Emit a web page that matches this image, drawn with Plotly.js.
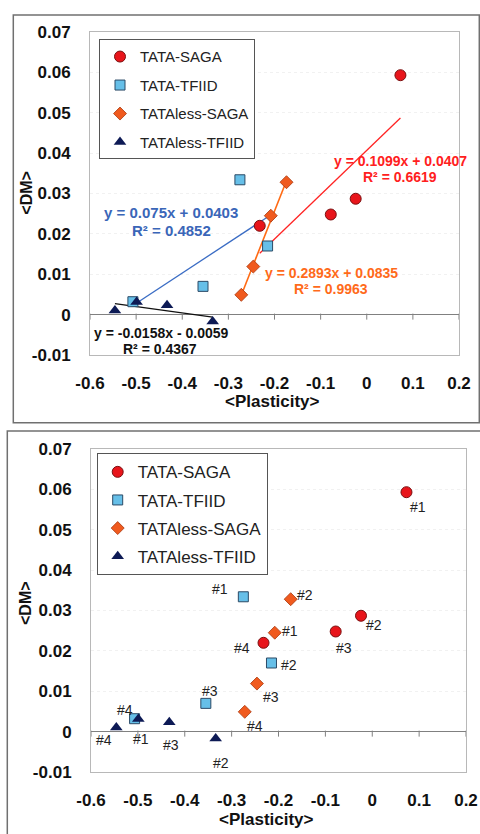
<!DOCTYPE html>
<html>
<head>
<meta charset="utf-8">
<script src="https://cdn.plot.ly/plotly-3.0.1.min.js"></script>
<style>
html,body{margin:0;padding:0;background:#fff;}
#chart{width:480px;height:834px;}
</style>
</head>
<body>
<div id="chart"></div>
<script>
// ---------- data ----------
const seriesNames = ['TATA-SAGA', 'TATA-TFIID', 'TATAless-SAGA', 'TATAless-TFIID'];
const pointLabels = ['#1', '#2', '#3', '#4'];

const tataSagaX = [0.073, -0.024, -0.078, -0.232];
const tataSagaY = [0.0593, 0.0287, 0.0248, 0.022];
const tataTfiidX = [-0.275, -0.215, -0.355, -0.507];
const tataTfiidY = [0.0334, 0.017, 0.007, 0.0032];
const lessSagaX = [-0.208, -0.174, -0.246, -0.272];
const lessSagaY = [0.0245, 0.0328, 0.0119, 0.0049];
const lessTfiidX = [-0.499, -0.334, -0.433, -0.546];
const lessTfiidY = [0.0031, -0.0017, 0.0023, 0.001];

const trendSlope = [0.1099, 0.075, 0.2893, -0.0158];
const trendIntercept = [0.0407, 0.0403, 0.0835, -0.0059];
const trendEqText = ['y = 0.1099x + 0.0407', 'y = 0.075x + 0.0403', 'y = 0.2893x + 0.0835', 'y = -0.0158x - 0.0059'];
const trendR2Text = ['R\u00b2 = 0.6619', 'R\u00b2 = 0.4852', 'R\u00b2 = 0.9963', 'R\u00b2 = 0.4367'];

const xTickVals = [-0.6, -0.5, -0.4, -0.3, -0.2, -0.1, 0, 0.1, 0.2];
const xTickText = ['-0.6', '-0.5', '-0.4', '-0.3', '-0.2', '-0.1', '0', '0.1', '0.2'];
const yTickVals = [-0.01, 0, 0.01, 0.02, 0.03, 0.04, 0.05, 0.06, 0.07];
const yTickText = ['-0.01', '0', '0.01', '0.02', '0.03', '0.04', '0.05', '0.06', '0.07'];

const xTitle = '&lt;Plasticity&gt;';
const yTitle = '&lt;DM&gt;';

// ---------- styles / positions ----------
const FONT = 'Liberation Sans, Arial, Helvetica, sans-serif';
const seriesX = [tataSagaX, tataTfiidX, lessSagaX, lessTfiidX];
const seriesY = [tataSagaY, tataTfiidY, lessSagaY, lessTfiidY];
const markerStyles = [
  {symbol: 'circle', size: 11, color: '#e8151b', line: {color: '#7a1010', width: 1}},
  {symbol: 'square', size: 10, color: '#66bfe8', line: {color: '#2b4a66', width: 1}},
  {symbol: 'diamond', size: 10, color: '#f05a1e', line: {color: '#a8380f', width: 0.8}},
  {symbol: 'triangle-up', size: 11, color: '#0d1a55', line: {color: '#0d1a55', width: 0}}
];
const trendColors = ['#ff2424', '#3a6cc4', '#ff6a13', '#111111'];
const eqColors = ['#ff2020', '#3a66b8', '#ff6a1a', '#111111'];
const eqSizes = [14, 15, 14, 14];
// annotation anchor positions for equations (data coords of top panel)
const eqPos = [[0.0736, 0.03804], [-0.4244, 0.02538], [-0.0775, 0.01035], [-0.4461, -0.00454]];
const r2Pos = [[0.0721, 0.0340], [-0.4229, 0.02084], [-0.0775, 0.00638], [-0.4482, -0.00851]];
// pixel offsets (dx right, dy down) for the '#n' labels in the bottom panel
const labelShift = [
  [[12, 15], [13, 9], [8, 16], [-22, 5]],
  [[-23, -8], [18, 2], [4, -12], [-10, -9]],
  [[15, -2], [14, -4], [14, 13], [10, 14]],
  [[3, 20], [5, 25], [2, 23], [-12, 12]]
];

const traces = [];
// trendlines (top panel)
for (let s = 0; s < 4; s++) {
  const xs = seriesX[s];
  const xmin = Math.min(...xs), xmax = Math.max(...xs);
  traces.push({
    type: 'scatter', mode: 'lines', xaxis: 'x', yaxis: 'y',
    x: [xmin, xmax],
    y: [trendSlope[s] * xmin + trendIntercept[s], trendSlope[s] * xmax + trendIntercept[s]],
    line: {color: trendColors[s], width: s === 2 ? 1.6 : 1.3},
    showlegend: false, hoverinfo: 'skip'
  });
}
// markers: top panel
for (let s = 0; s < 4; s++) {
  traces.push({
    type: 'scatter', mode: 'markers', xaxis: 'x', yaxis: 'y',
    x: seriesX[s], y: seriesY[s], name: seriesNames[s],
    legend: 'legend', legendgroup: 'a' + s,
    marker: markerStyles[s]
  });
}
// markers: bottom panel
for (let s = 0; s < 4; s++) {
  traces.push({
    type: 'scatter', mode: 'markers', xaxis: 'x2', yaxis: 'y2',
    x: seriesX[s], y: seriesY[s], name: seriesNames[s],
    legend: 'legend2', legendgroup: 'b' + s,
    marker: markerStyles[s]
  });
}

const annotations = [];
for (let s = 0; s < 4; s++) {
  annotations.push({
    xref: 'x', yref: 'y', x: eqPos[s][0], y: eqPos[s][1], text: '<b>' + trendEqText[s] + '</b>',
    xanchor: 'center', yanchor: 'middle',
    showarrow: false, font: {family: FONT, size: eqSizes[s], color: eqColors[s]}
  });
  annotations.push({
    xref: 'x', yref: 'y', x: r2Pos[s][0], y: r2Pos[s][1], text: '<b>' + trendR2Text[s] + '</b>',
    xanchor: 'center', yanchor: 'middle',
    showarrow: false, font: {family: FONT, size: eqSizes[s], color: eqColors[s]}
  });
}
for (let s = 0; s < 4; s++) {
  for (let i = 0; i < seriesX[s].length; i++) {
    annotations.push({
      xref: 'x2', yref: 'y2', x: seriesX[s][i], y: seriesY[s][i], text: pointLabels[i],
      xanchor: 'center', yanchor: 'middle',
      showarrow: false, xshift: labelShift[s][i][0], yshift: -labelShift[s][i][1],
      font: {family: FONT, size: 14, color: '#222'}
    });
  }
}
// axis titles (placed as annotations in paper space)
const titleFont = {family: FONT, size: 17, color: '#111'};
const yTitleFont = {family: FONT, size: 16, color: '#111'};
annotations.push({xref: 'paper', yref: 'paper', x: 272 / 480, y: 1 - 401 / 834, text: '<b>' + xTitle + '</b>',
  xanchor: 'center', yanchor: 'middle', showarrow: false, font: titleFont});
annotations.push({xref: 'paper', yref: 'paper', x: 266 / 480, y: 1 - 819 / 834, text: '<b>' + xTitle + '</b>',
  xanchor: 'center', yanchor: 'middle', showarrow: false, font: titleFont});
annotations.push({xref: 'paper', yref: 'paper', x: 25.7 / 480, y: 1 - 193 / 834, text: '<b>' + yTitle + '</b>',
  xanchor: 'center', yanchor: 'middle', showarrow: false, textangle: -90, font: yTitleFont});
annotations.push({xref: 'paper', yref: 'paper', x: 25 / 480, y: 1 - 603 / 834, text: '<b>' + yTitle + '</b>',
  xanchor: 'center', yanchor: 'middle', showarrow: false, textangle: -90, font: yTitleFont});

const shapes = [];
// tick marks on the x axis line at y = 0
['y', 'y2'].forEach(function (yr, k) {
  xTickVals.forEach(function (v) {
    shapes.push({
      type: 'line', xref: k === 0 ? 'x' : 'x2', yref: yr, ysizemode: 'pixel', yanchor: 0,
      x0: v, x1: v, y0: 1, y1: -5, line: {color: '#808080', width: 1}
    });
  });
});
// panel frames
shapes.push({type: 'rect', xref: 'paper', yref: 'paper', x0: 13.3 / 480, x1: 479.3 / 480,
  y0: 1 - 422.7 / 834, y1: 1 - 15 / 834, line: {color: '#707070', width: 1.5}, layer: 'below'});
shapes.push({type: 'rect', xref: 'paper', yref: 'paper', x0: 7.3 / 480, x1: 1.02,
  y0: -0.02, y1: 1 - 431 / 834, line: {color: '#707070', width: 1.5}, layer: 'below'});

function xAxis(domain, anchor) {
  return {
    domain: domain, anchor: anchor, range: [-0.6, 0.2],
    tickmode: 'array', tickvals: xTickVals, ticktext: xTickText,
    ticks: 'outside', ticklen: 13, tickcolor: 'rgba(0,0,0,0)',
    tickfont: {family: FONT, size: 17, color: '#111', weight: 'bold'},
    showline: true, mirror: true, linecolor: '#b8b8b8', linewidth: 1,
    showgrid: false, zeroline: false,
    automargin: false, fixedrange: true
  };
}
function yAxis(domain, anchor) {
  return {
    domain: domain, anchor: anchor, range: [-0.01, 0.07],
    tickmode: 'array', tickvals: yTickVals, ticktext: yTickText,
    ticks: 'outside', ticklen: 15, tickcolor: 'rgba(0,0,0,0)',
    tickfont: {family: FONT, size: 17, color: '#111', weight: 'bold'},
    showline: true, mirror: true, linecolor: '#b8b8b8', linewidth: 1,
    showgrid: true, gridcolor: '#f1f1f1', griddash: 'dot',
    zeroline: true, zerolinecolor: '#808080', zerolinewidth: 1,
    automargin: false, fixedrange: true
  };
}

const layout = {
  width: 480, height: 834,
  margin: {l: 0, r: 0, t: 0, b: 0, pad: 0},
  paper_bgcolor: '#ffffff', plot_bgcolor: '#ffffff',
  font: {family: FONT, color: '#111'},
  xaxis: xAxis([90 / 480, 459 / 480], 'y'),
  yaxis: yAxis([1 - 355 / 834, 1 - 32 / 834], 'x'),
  xaxis2: xAxis([91 / 480, 466 / 480], 'y2'),
  yaxis2: yAxis([1 - 772 / 834, 1 - 449 / 834], 'x2'),
  legend: {
    x: 99 / 480, y: 1 - 39.3 / 834, xanchor: 'left', yanchor: 'top',
    bgcolor: '#ffffff', bordercolor: '#555', borderwidth: 1,
    font: {family: FONT, size: 15, color: '#222'}, tracegroupgap: 6, itemwidth: 30
  },
  legend2: {
    x: 96.7 / 480, y: 1 - 453.3 / 834, xanchor: 'left', yanchor: 'top',
    bgcolor: '#ffffff', bordercolor: '#555', borderwidth: 1,
    font: {family: FONT, size: 17, color: '#222'}, tracegroupgap: 3, itemwidth: 30
  },
  showlegend: true,
  annotations: annotations,
  shapes: shapes
};

Plotly.newPlot('chart', traces, layout, {staticPlot: true, displayModeBar: false});
</script>
</body>
</html>
